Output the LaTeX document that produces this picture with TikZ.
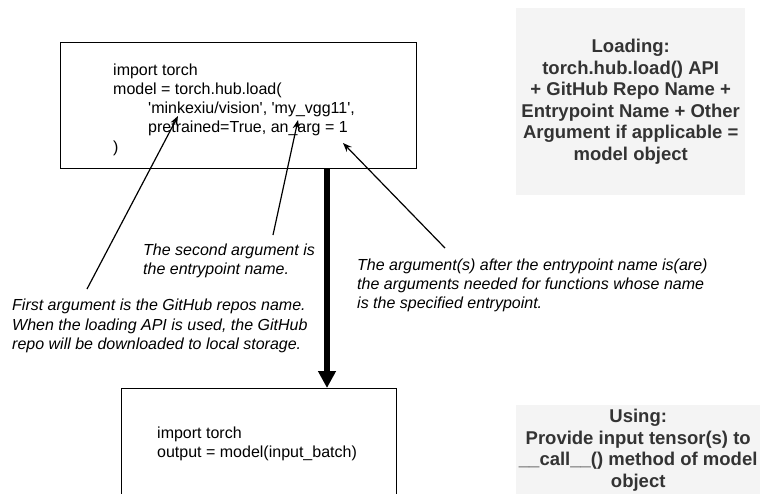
\documentclass[tikz,border=0pt]{standalone}
\usepackage{fontspec}
\setmainfont{Liberation Sans}
\usetikzlibrary{arrows.meta}
\definecolor{graybg}{HTML}{F4F4F4}
\definecolor{graytxt}{HTML}{333333}
\tikzset{
  box/.style={draw=black, line width=1.3pt, fill=white, inner sep=0pt, anchor=north west},
  codetext/.style={anchor=north west, inner sep=0pt, align=left, font=\fontsize{16}{19.2}\selectfont},
  note/.style={anchor=north west, inner sep=0pt, align=left, font=\fontsize{16}{19.2}\selectfont\itshape},
  panel/.style={fill=graybg, draw=none, text=graytxt, align=center, anchor=north west,
    font=\fontsize{18.5}{21.5}\selectfont\bfseries, inner sep=0pt},
  pointer/.style={line width=1.2pt, -{Stealth[length=9pt,width=7pt]}},
  flow/.style={line width=5.5pt, -{Triangle[length=17pt,width=17pt]}}
}
\begin{document}
\begin{tikzpicture}[x=1pt,y=-1pt]
\useasboundingbox (0,0) rectangle (760,493);
\clip (0,0) rectangle (760,493);
% gray panels
\node[panel, minimum width=229pt, minimum height=187pt] (load) at (516,8)
  {Loading:\\torch.hub.load() API\\+ GitHub Repo Name +\\Entrypoint Name + Other\\Argument if applicable =\\model object};
\node[panel, minimum width=244pt, minimum height=90pt] (use) at (516,405)
  {Using:\\Provide input tensor(s) to\\\_\_call\_\_() method of model\\object};
% code boxes
\node[box, minimum width=356pt, minimum height=126pt] (topbox) at (60,42) {};
\node[box, minimum width=275pt, minimum height=130pt] (botbox) at (121,388) {};
\node[codetext] (code1) at (113,63.5)
  {import torch\\model = torch.hub.load(\\\hspace*{35pt}\textquotesingle minkexiu/vision\textquotesingle, \textquotesingle my\_vgg11\textquotesingle,\\\hspace*{35pt}pretrained=True, an\_arg = 1\\)};
\node[codetext] (code2) at (157,426.5)
  {import torch\\output = model(input\_batch)};
% main flow arrow
\coordinate (ax) at (327,0);
\draw[flow] (topbox.south -| ax) -- (botbox.north -| ax);
% notes
\node[note] (n1) at (12,299)
  {First argument is the GitHub repos name.\\When the loading API is used, the GitHub\\repo will be downloaded to local storage.};
\node[note] (n2) at (143,243.5)
  {The second argument is\\the entrypoint name.};
\node[note] (n3) at (357,258.5)
  {The argument(s) after the entrypoint name is(are)\\the arguments needed for functions whose name\\is the specified entrypoint.};
% pointers
\coordinate (s1) at (87,289);
\coordinate (p1) at (178,116);
\coordinate (s2) at (273,235);
\coordinate (p2) at (298,120);
\coordinate (s3) at (445,248);
\coordinate (p3) at (343,143);
\draw[pointer] (s1) -- (p1);
\draw[pointer] (s2) -- (p2);
\draw[pointer] (s3) -- (p3);
\end{tikzpicture}
\end{document}
